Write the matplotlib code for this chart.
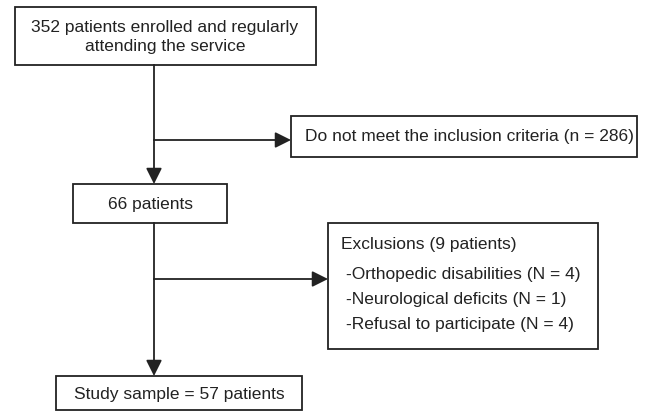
import matplotlib
matplotlib.use('Agg')
import matplotlib.pyplot as plt
from matplotlib.patches import Rectangle

matplotlib.rcParams['font.family'] = ['Liberation Sans', 'DejaVu Sans']

# flow chart content
box_texts = ['352 patients enrolled and regularly\nattending the service',
             'Do not meet the inclusion criteria (n = 286)',
             '66 patients',
             'Study sample = 57 patients']
excl_title = 'Exclusions (9 patients)'
excl_items = ['-Orthopedic disabilities (N = 4)',
              '-Neurological deficits (N = 1)',
              '-Refusal to participate (N = 4)']

col = '#222222'
lw = 1.3
fs = 12.5

fig = plt.figure(figsize=(6.49, 4.13), dpi=100)
ax = fig.add_axes([0, 0, 1, 1])
ax.set_xlim(0, 649)
ax.set_ylim(413, 0)
ax.axis('off')

def box(x0, y0, x1, y1):
    ax.add_patch(Rectangle((x0, y0), x1 - x0, y1 - y0, fill=False,
                           edgecolor=col, lw=lw))

def arrow(x0, y0, x1, y1):
    ax.annotate('', xy=(x1, y1), xytext=(x0, y0),
                arrowprops=dict(arrowstyle='-|>,head_length=0.6,head_width=0.3',
                                color=col, lw=lw,
                                mutation_scale=16, shrinkA=0, shrinkB=0))

# boxes
box(15, 7, 316, 65)
box(291, 116, 637, 157)
box(73, 184, 227, 223)
box(328, 223, 598, 349)
box(56, 376, 302, 410)

# connectors
ax.plot([154, 154], [65, 140], color=col, lw=lw)
arrow(154, 140, 154, 184)
arrow(154, 140, 291, 140)
ax.plot([154, 154], [223, 279], color=col, lw=lw)
arrow(154, 279, 154, 376)
arrow(154, 279, 328, 279)

# texts
ax.text(165, 37, box_texts[0], ha='center', va='center', fontsize=fs,
        color=col, linespacing=1.35)
ax.text(305, 137, box_texts[1], ha='left', va='center', fontsize=fs, color=col)
ax.text(150, 204, box_texts[2], ha='center', va='center', fontsize=fs, color=col)
ax.text(179, 394, box_texts[3], ha='center', va='center', fontsize=fs, color=col)
ax.text(341, 245, excl_title, ha='left', va='center', fontsize=fs, color=col)
for i, t in enumerate(excl_items):
    ax.text(346, 274 + i * 25.5, t, ha='left', va='center', fontsize=fs,
            color=col)

plt.savefig('out.png', dpi=100)
